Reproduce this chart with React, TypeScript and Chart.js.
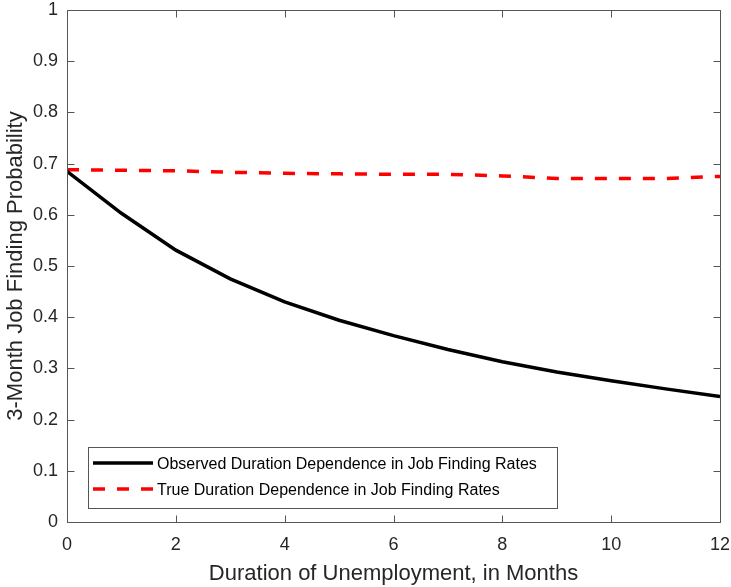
import React, { useEffect, useRef } from "react";
import { Chart, registerables } from "chart.js";

Chart.register(...registerables);

const months = [0, 1, 2, 3, 4, 5, 6, 7, 8, 9, 10, 11, 12];
const observed = [0.685, 0.603, 0.531, 0.475, 0.43, 0.394, 0.364, 0.337, 0.313, 0.293, 0.276, 0.26, 0.245];
const trueDep = [0.688, 0.687, 0.686, 0.683, 0.681, 0.68, 0.679, 0.679, 0.676, 0.671, 0.671, 0.671, 0.675];
const seriesLabels = [
  "Observed Duration Dependence in Job Finding Rates",
  "True Duration Dependence in Job Finding Rates",
];
const xTicks = [0, 2, 4, 6, 8, 10, 12];
const yTicks = [0, 0.1, 0.2, 0.3, 0.4, 0.5, 0.6, 0.7, 0.8, 0.9, 1];
const xTitle = "Duration of Unemployment, in Months";
const yTitle = "3-Month Job Finding Probability";

const FONT = "'Liberation Sans', Arial, Helvetica, sans-serif";
const TEXT = "#262626";
const FRAME = "#555555";

const framePlugin = {
  id: "frame",
  afterDatasetsDraw(chart: any) {
    const { ctx, chartArea: a, scales } = chart;
    ctx.save();
    ctx.strokeStyle = FRAME;
    ctx.lineWidth = 1;
    ctx.beginPath();
    const L = Math.round(a.left) + 0.5, T = Math.round(a.top) + 0.5;
    const R = Math.round(a.right) + 0.5, B = Math.round(a.bottom) + 0.5;
    ctx.rect(L, T, R - L, B - T);
    const tl = 7;
    for (const v of xTicks) {
      const x = Math.round(scales.x.getPixelForValue(v)) + 0.5;
      ctx.moveTo(x, B);
      ctx.lineTo(x, B - tl);
      ctx.moveTo(x, T);
      ctx.lineTo(x, T + tl);
    }
    for (const v of yTicks) {
      const y = Math.round(scales.y.getPixelForValue(v)) + 0.5;
      ctx.moveTo(L, y);
      ctx.lineTo(L + tl, y);
      ctx.moveTo(R, y);
      ctx.lineTo(R - tl, y);
    }
    ctx.stroke();

    // legend box
    const bx = 88.5, by = 447.5, bw = 469, bh = 61;
    ctx.fillStyle = "#ffffff";
    ctx.fillRect(bx, by, bw, bh);
    ctx.strokeStyle = FRAME;
    ctx.strokeRect(bx, by, bw, bh);
    const lineRows = [463, 489];
    const textRows = [464.5, 490.5];
    chart.data.datasets.forEach((ds: any, i: number) => {
      ctx.beginPath();
      ctx.strokeStyle = ds.borderColor;
      ctx.lineWidth = 3.5;
      ctx.lineCap = "butt";
      ctx.setLineDash(i === 1 ? [12, 12] : []);
      ctx.moveTo(93, lineRows[i]);
      ctx.lineTo(153, lineRows[i]);
      ctx.stroke();
      ctx.setLineDash([]);
      ctx.fillStyle = "#000000";
      ctx.font = `16px ${FONT}`;
      ctx.textBaseline = "middle";
      ctx.textAlign = "left";
      ctx.fillText(ds.label, 157, textRows[i]);
    });
    ctx.restore();
  },
};

export default function App() {
  const ref = useRef<HTMLCanvasElement | null>(null);
  useEffect(() => {
    document.body.style.margin = "0";
    const chart = new Chart(ref.current as HTMLCanvasElement, {
      type: "line",
      data: {
        labels: months,
        datasets: [
          {
            label: seriesLabels[0],
            data: months.map((m, i) => ({ x: m, y: observed[i] })),
            borderColor: "#000000",
            borderWidth: 3.5,
            pointRadius: 0,
            tension: 0,
          },
          {
            label: seriesLabels[1],
            data: months.map((m, i) => ({ x: m, y: trueDep[i] })),
            borderColor: "#ff0000",
            borderWidth: 3.5,
            borderDash: [12, 12],
            pointRadius: 0,
            tension: 0,
          },
        ],
      },
      options: {
        responsive: false,
        animation: false,
        events: [],
        layout: { padding: { top: 10, right: 11, left: 0, bottom: 0 } },
        plugins: { legend: { display: false }, tooltip: { enabled: false } },
        scales: {
          x: {
            type: "linear",
            min: 0,
            max: 12,
            afterFit: (s: any) => {
              s.height = 65;
              s.paddingLeft = 0;
              s.paddingRight = 0;
            },
            afterBuildTicks: (s: any) => { s.ticks = xTicks.map((v) => ({ value: v })); },
            grid: { display: false, drawTicks: false },
            border: { display: false },
            ticks: { color: TEXT, font: { family: FONT, size: 18 }, padding: 12, maxRotation: 0 },
            title: { display: true, text: xTitle, color: TEXT, font: { family: FONT, size: 22 }, padding: { top: 0, bottom: 0 } },
          },
          y: {
            type: "linear",
            min: 0,
            max: 1,
            afterFit: (s: any) => {
              s.width = 67;
              s.paddingTop = 0;
              s.paddingBottom = 0;
            },
            afterBuildTicks: (s: any) => { s.ticks = yTicks.map((v) => ({ value: v })); },
            grid: { display: false, drawTicks: false },
            border: { display: false },
            ticks: { color: TEXT, font: { family: FONT, size: 18 }, padding: 9, callback: (v: any) => String(Math.round(Number(v) * 10) / 10) },
            title: { display: true, text: yTitle, color: TEXT, font: { family: FONT, size: 22 }, padding: { top: 3, bottom: 0 } },
          },
        },
      },
      plugins: [framePlugin],
    });
    return () => chart.destroy();
  }, []);
  return (
    <div style={{ width: 731, height: 587, background: "#fff" }}>
      <canvas ref={ref} width={731} height={587} style={{ display: "block" }} />
    </div>
  );
}
